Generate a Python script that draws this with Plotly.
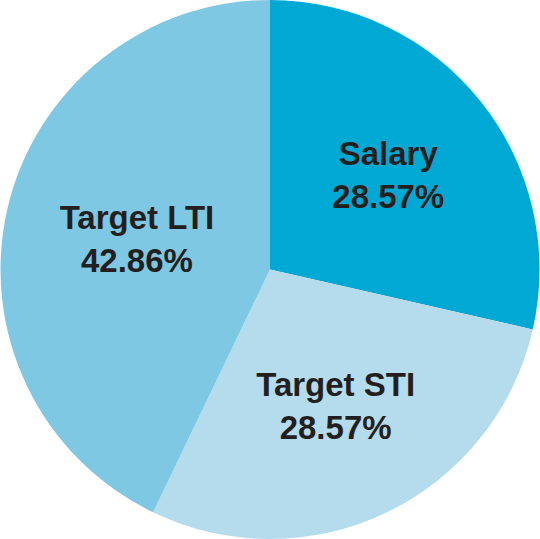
import plotly.graph_objects as go

labels = ["Salary", "Target STI", "Target LTI"]
values = [2, 2, 3]
colors = ["#00a8d4", "#b5dcec", "#7ec8e3"]

fig = go.Figure(go.Pie(
    labels=labels,
    values=values,
    sort=False,
    direction="clockwise",
    rotation=0,
    marker=dict(colors=colors, line=dict(width=0)),
    texttemplate="<b>%{label}<br>%{percent:.2%}</b>",
    textposition="inside",
    insidetextorientation="horizontal",
    textfont=dict(family="Liberation Sans", size=33, color="#231f20"),
    hoverinfo="label+percent",
    showlegend=False,
))

fig.update_layout(
    width=540,
    height=539,
    margin=dict(l=0, r=0, t=0, b=0),
    paper_bgcolor="white",
    plot_bgcolor="white",
    uniformtext=dict(minsize=33, mode="show"),
)

# page body has a default 8px margin; drop it so the pie sits flush
fig.write_html("out.html", config={"displayModeBar": False},
               post_script="document.body.style.margin='0';")
